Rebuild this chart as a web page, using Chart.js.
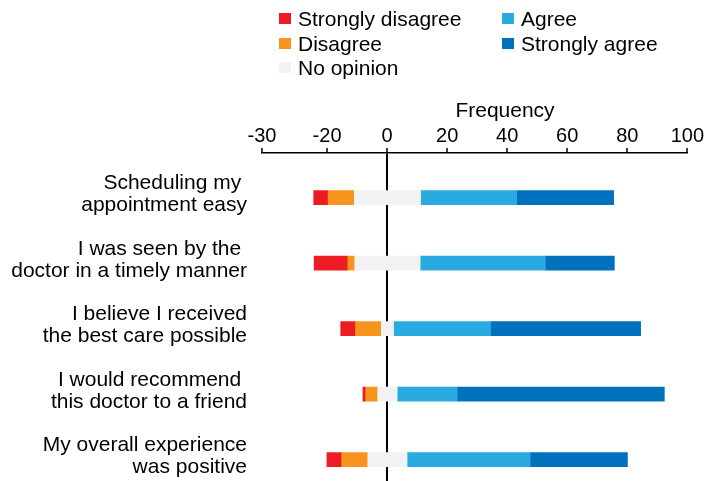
<!DOCTYPE html>
<html lang="en">
<head>
    <meta charset="UTF-8">
    <title>Patient survey responses</title>
    <script src="https://cdn.jsdelivr.net/npm/chart.js"></script>
    <style>
        body {
            margin: 0;
            background-color: white;
            color: black;
            font-family: 'Liberation Sans', Arial, sans-serif;
        }

        #wrap {
            position: relative;
            width: 704px;
            height: 481px;
        }

        .legend-item {
            position: absolute;
            font-size: 21px;
            line-height: 21px;
            white-space: nowrap;
        }

        .legend-item span {
            position: absolute;
            left: -19px;
            top: 5px;
            width: 12px;
            height: 11px;
        }

        #axis-title {
            position: absolute;
            left: 505px;
            top: 99px;
            transform: translateX(-50%);
            font-size: 21px;
            line-height: 21px;
        }
    </style>
</head>
<body>
    <div id="wrap">
        <canvas id="surveyChart"></canvas>
        <div id="axis-title">Frequency</div>
    </div>

    <script>
        const categories = [
            ['Scheduling my ', 'appointment easy'],
            ['I was seen by the ', 'doctor in a timely manner'],
            ['I believe I received', 'the best care possible'],
            ['I would recommend ', 'this doctor to a friend'],
            ['My overall experience', 'was positive']
        ];

        const stronglyDisagree = [4.6, 11, 4.7, 0.7, 4.7];
        const disagree = [8.7, 2.3, 8.6, 4, 8.7];
        const noOpinion = [22.3, 22, 4.3, 6.7, 13.3];
        const agree = [32, 41.7, 32.3, 20, 41];
        const stronglyAgree = [32.3, 23, 50, 69, 32.4];

        const seriesNames = ['Strongly disagree', 'Disagree', 'No opinion', 'Agree', 'Strongly agree'];
        const seriesColors = ['#ED1C24', '#F7941D', '#F2F2F2', '#29ABE2', '#0071BC'];

        // in the picture the first tick says -30 but sits where -41.7 would be
        const tickValues = [-41.67, -20, 0, 20, 40, 60, 80, 100];
        const tickLabels = ['-30', '-20', '0', '20', '40', '60', '80', '100'];

        const fontFamily = "'Liberation Sans', Arial, sans-serif";

        // no opinion is split around zero, disagree goes left, agree goes right
        const ranges = [[], [], [], [], []];
        categories.forEach((c, i) => {
            const half = noOpinion[i] / 2;
            const dStart = -half - disagree[i];
            const sdStart = dStart - stronglyDisagree[i];
            const aEnd = half + agree[i];
            ranges[0].push({ y: i, x: [sdStart, dStart] });
            ranges[1].push({ y: i, x: [dStart, -half] });
            ranges[2].push({ y: i, x: [-half, half] });
            ranges[3].push({ y: i, x: [half, aEnd] });
            ranges[4].push({ y: i, x: [aEnd, aEnd + stronglyAgree[i]] });
        });

        // legend: two columns, filled top to bottom
        const wrap = document.getElementById('wrap');
        seriesNames.forEach((name, i) => {
            const col = i < 3 ? 0 : 1;
            const row = i < 3 ? i : i - 3;
            const item = document.createElement('div');
            item.className = 'legend-item';
            item.style.left = (col === 0 ? 298 : 521) + 'px';
            item.style.top = (8 + row * 24.5) + 'px';
            item.innerHTML = '<span style="background:' + seriesColors[i] + '"></span>' + name;
            wrap.appendChild(item);
        });

        const ctx = document.getElementById('surveyChart').getContext('2d');

        new Chart(ctx, {
            type: 'bar',
            data: {
                datasets: seriesNames.map((name, k) => ({
                    label: name,
                    data: ranges[k],
                    backgroundColor: seriesColors[k],
                    borderWidth: 0,
                    barThickness: 14,
                    grouped: false
                }))
            },
            options: {
                indexAxis: 'y',
                responsive: true,
                maintainAspectRatio: false,
                animation: false,
                layout: {
                    padding: { top: 0, right: 16, bottom: 0, left: 0 }
                },
                plugins: {
                    legend: { display: false },
                    tooltip: { enabled: false }
                },
                scales: {
                    x: {
                        type: 'linear',
                        position: 'top',
                        min: -41.67,
                        max: 100,
                        z: 1,
                        afterBuildTicks: s => { s.ticks = tickValues.map(v => ({ value: v })); },
                        afterFit: s => { s.height = 153; },
                        ticks: {
                            callback: (v, i) => tickLabels[i],
                            color: '#000',
                            font: { size: 20, family: fontFamily },
                            padding: 0,
                            maxRotation: 0,
                            autoSkip: false
                        },
                        grid: {
                            color: c => (c.tick && c.tick.value === 0) ? '#000' : 'rgba(0,0,0,0)',
                            lineWidth: 2,
                            tickLength: 5,
                            tickColor: '#000',
                            tickWidth: 1.5
                        },
                        border: { display: true, color: '#000', width: 1.5 }
                    },
                    y: {
                        type: 'linear',
                        reverse: true,
                        offset: false,
                        min: -0.682,
                        max: 4.326,
                        afterBuildTicks: s => { s.ticks = categories.map((c, i) => ({ value: i })); },
                        afterFit: s => {
                            s.width = 262;
                            s.paddingTop = 0;
                            s.paddingBottom = 0;
                        },
                        ticks: {
                            callback: v => categories[v],
                            color: '#000',
                            font: { size: 21, family: fontFamily, lineHeight: 1.05 },
                            padding: 15,
                            labelOffset: -3,
                            autoSkip: false
                        },
                        grid: { display: false, drawTicks: false, offset: false },
                        border: { display: false }
                    }
                }
            }
        });
    </script>
</body>
</html>
